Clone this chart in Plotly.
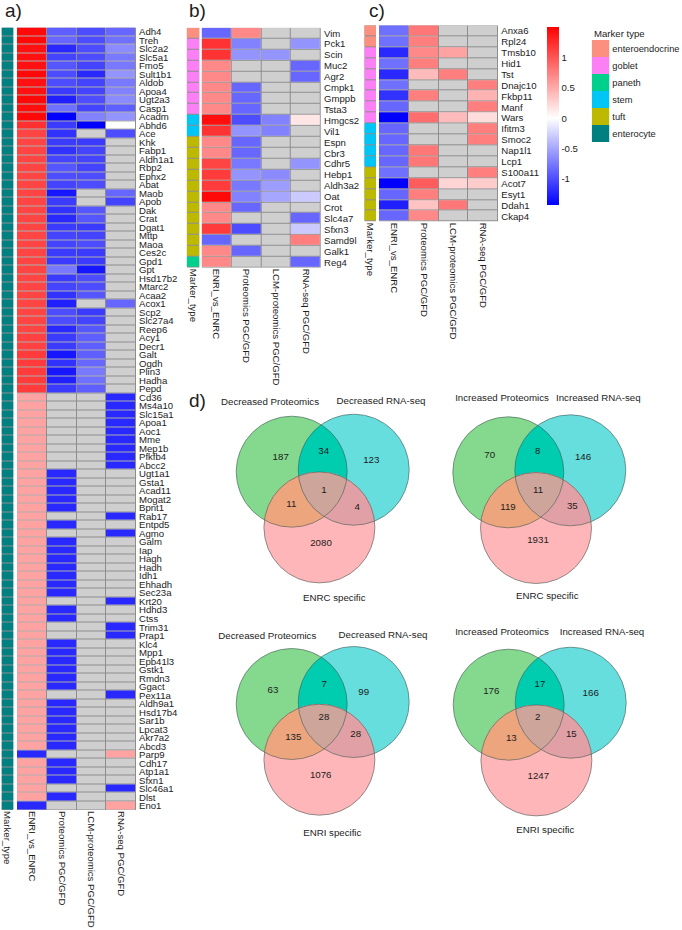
import numpy as np
import plotly.graph_objects as go

N = None
# ---------------- data ----------------
marker_types = ["enteroendocrine", "goblet", "paneth", "stem", "tuft", "enterocyte"]
columns = ["ENRI_vs_ENRC", "Proteomics PGC/GFD", "LCM-proteomics PGC/GFD", "RNA-seq PGC/GFD"]

a_genes = ["Adh4","Treh","Slc2a2","Slc5a1","Fmo5","Sult1b1","Aldob","Apoa4","Ugt2a3","Casp1","Acadm","Abhd6","Ace","Khk","Fabp1","Aldh1a1","Rbp2","Ephx2","Abat","Maob","Apob","Dak","Crat","Dgat1","Mttp","Maoa","Ces2c","Gpd1","Gpt","Hsd17b2","Mtarc2","Acaa2","Acox1","Scp2","Slc27a4","Reep6","Acy1","Decr1","Galt","Ogdh","Plin3","Hadha","Pepd",
           "Cd36","Ms4a10","Slc15a1","Apoa1","Aoc1","Mme","Mep1b","Pfkfb4","Abcc2","Ugt1a1","Gsta1","Acad11","Mogat2","Bpnt1","Rab17","Entpd5","Agmo","Galm","Iap","Hagh","Hadh","Idh1","Ehhadh","Sec23a","Krt20","Hdhd3","Ctss","Trim31","Prap1","Klc4","Mpp1","Epb41l3","Gstk1","Rmdn3","Ggact","Pex11a","Aldh9a1","Hsd17b4","Sar1b","Lpcat3","Akr7a2","Abcd3","Parp9","Cdh17","Atp1a1","Sfxn1","Slc46a1","Dlst","Eno1"]
a_enri = [1.45,1.45,1.4,1.4,1.4,1.45,1.4,1.4,1.45,1.42,1.45,1.22,
          1.1,1.1,1.1,1.1,1.1,1.1,1.1,1.1,1.1,1.1,1.1,1.1,1.1,1.1,1.1,1.1,1.1,1.1,1.1,1.1,1.1,1.1,1.1,1.1,1.12,1.12,1.15,1.15,1.15,1.15,1.15,
          .55,.55,.55,.55,.55,.55,.55,.55,.55,.55,.55,.55,.55,.55,.55,.55,.55,.55,.55,.55,.55,.55,.55,.55,.55,.55,.55,.55,.55,.55,.55,.55,.55,.55,.55,.55,.55,.55,.55,.55,.55,.55,-1.2,.55,.55,.55,.55,.55,-1.2]
a_prot = [-.9,-.85,-1.2,-1.05,-.95,-1.0,-1.0,-1.1,-1.25,-.8,-1.43,-1.1,-1.15,-1.1,-1.15,-1.05,-.95,-1.0,-1.05,-1.3,-1.1,-1.15,-1.2,-1.1,-1.05,-1.05,-1.1,-1.1,-.75,-1.1,-1.05,-1.15,-1.25,-1.0,-1.0,-1.2,-1.1,-1.1,-1.3,-1.15,-1.3,-1.25,-1.1,
          N,N,N,N,N,N,N,N,N,-1.2,-1.2,-1.2,-1.2,-1.2,N,-1.2,N,-1.2,-1.2,-1.2,-1.2,-1.2,-1.2,-1.2,N,-1.2,-1.2,N,N,-1.2,-1.2,-1.2,-1.2,-1.2,-1.2,N,-1.2,-1.2,-1.2,-1.2,-1.2,-1.2,N,-1.2,-1.2,-1.2,N,-1.2,N]
a_lcm = [-1.0,-1.0,-1.0,-1.0,-1.05,-1.2,-1.05,-1.05,-1.0,-1.05,-.7,-1.43,N,-1.1,-1.05,-1.05,-1.05,-1.0,-1.0,N,N,-.95,-.95,-1.1,-1.05,-1.0,-1.1,-1.1,-1.3,-1.0,-1.0,-.95,N,-1.1,-1.05,-.95,-.9,-.9,-.9,-.85,-.75,-.8,-.9,
         N,N,N,N,N,N,N,N,N,N,N,N,N,N,N,N,N,N,N,N,N,N,N,N,N,N,N,N,N,N,N,N,N,N,N,N,N,N,N,N,N,N,N,N,N,N,N,N,N]
a_rna = [-.85,-.8,-.65,-.75,-.75,-.6,-.75,-.7,-.65,-.9,-.6,0,-1.0,N,N,N,N,N,N,-.85,-1.05,N,N,N,N,N,N,N,N,N,N,N,-.85,N,N,N,N,N,N,N,N,N,N,
         -1.2,-1.2,-1.2,-1.2,-1.2,-1.2,-1.2,-1.2,-1.2,N,N,N,N,N,-1.2,N,-1.2,N,N,N,N,N,N,N,-1.2,N,N,-1.2,-1.2,N,N,N,N,N,N,-1.2,N,N,N,N,N,N,.55,N,N,N,-1.2,N,.55]
a_types = ["enterocyte"] * len(a_genes)

b_genes = ["Vim","Pck1","Scin","Muc2","Agr2","Cmpk1","Gmppb","Tsta3","Hmgcs2","Vil1","Espn","Cbr3","Cdhr5","Hebp1","Aldh3a2","Oat","Crot","Slc4a7","Sfxn3","Samd9l","Galk1","Reg4"]
b_types = ["enteroendocrine","goblet","goblet","goblet","goblet","goblet","goblet","goblet","stem","stem","tuft","tuft","tuft","tuft","tuft","tuft","tuft","tuft","tuft","tuft","tuft","paneth"]
b_enri = [-.85,1.2,1.2,.7,.7,.7,.7,.7,1.42,1.2,.7,.7,1.1,1.15,1.15,1.45,.7,.7,1.15,-.85,.7,.7]
b_prot = [.7,-.7,-.6,N,N,-.85,-.85,-.85,-1.0,-.6,-.85,-.85,-.75,-.6,-.75,-.7,-.85,N,-1.0,N,-.85,N]
b_lcm = [N,N,-.6,N,N,N,N,N,-.7,-.7,N,N,N,-.65,-.55,-.5,N,N,N,N,N,N]
b_rna = [N,-.6,N,-.85,-.85,N,N,N,.15,N,N,N,-.6,N,N,-.3,N,-.85,-.3,.75,N,-.85]

c_genes = ["Anxa6","Rpl24","Tmsb10","Hid1","Tst","Dnajc10","Fkbp11","Manf","Wars","Ifitm3","Smoc2","Nap1l1","Lcp1","S100a11","Acot7","Esyt1","Ddah1","Ckap4"]
c_types = ["enteroendocrine","enteroendocrine","goblet","goblet","goblet","goblet","goblet","goblet","goblet","stem","stem","stem","stem","tuft","tuft","tuft","tuft","tuft"]
c_enri = [-.8,-.8,-1.2,-.8,-1.2,-.8,-1.15,-.85,-1.43,-.85,-.85,-.85,-.85,-.8,-1.43,-.85,-1.25,-.85]
c_prot = [.8,.75,.7,.75,.4,N,.75,N,.85,N,N,.8,.8,N,.95,.75,.35,.7]
c_lcm = [N,N,.55,N,.75,N,N,N,.4,N,N,N,N,N,.25,N,.8,N]
c_rna = [N,N,N,N,N,.75,.45,.75,.2,.75,.75,N,N,.75,.3,N,N,N]

venn_titles = [("Decreased Proteomics","Decreased RNA-seq","ENRC specific"),
               ("Increased Proteomics","Increased RNA-seq","ENRC specific"),
               ("Decreased Proteomics","Decreased RNA-seq","ENRI specific"),
               ("Increased Proteomics","Increased RNA-seq","ENRI specific")]
venn_counts = [[187,34,123,1,11,4,2080],
               [70,8,146,11,119,35,1931],
               [63,7,99,28,135,28,1076],
               [176,17,166,2,13,15,1247]]

# ---------------- styling / layout constants ----------------
W, H = 682, 930
FONT = "Liberation Sans"
TXT = "#1c1c1c"
GRID = "#8e8e8e"
NA = "#cfcfcf"
type_colors = ["#fb8f80", "#fb80f5", "#00d08c", "#00c6f5", "#bdb900", "#008080"]
ZMIN, ZMAX = -1.43, 1.5
mid = -ZMIN / (ZMAX - ZMIN)
colorscale = [[0, "#0000ff"], [mid, "#ffffff"], [1, "#ff0000"]]
type_scale = [[i / 5, c] for i, c in enumerate(type_colors)]

fig = go.Figure()
layout = dict(width=W, height=H, margin=dict(l=0, r=0, t=0, b=0, pad=0), autosize=False,
              paper_bgcolor="white", plot_bgcolor="rgba(0,0,0,0)", showlegend=False,
              font=dict(family=FONT, size=10, color=TXT))
axis_no = [0]


def new_axes(x0, x1, y0, y1, xcats, ycats, **ya):
    """Adds a pair of axes placed by pixel box; returns their trace refs."""
    axis_no[0] += 1
    n = axis_no[0]
    s = "" if n == 1 else str(n)
    layout["xaxis" + s] = dict(domain=[x0 / W, x1 / W], anchor="y" + s, type="category", showgrid=False,
                               zeroline=False, ticks="", showline=False, tickangle=90, fixedrange=True,
                               tickmode="array", tickvals=xcats, ticktext=xcats,
                               tickfont=dict(size=9.6, family=FONT, color=TXT), automargin=False)
    yy = dict(domain=[1 - y1 / H, 1 - y0 / H], anchor="x" + s, type="category", showgrid=False, zeroline=False,
              ticks="", showline=False, autorange="reversed", side="right", showticklabels=False,
              tickmode="array", tickvals=ycats, ticktext=ycats, ticklabelstandoff=2,
              fixedrange=True, tickfont=dict(size=9.6, family=FONT, color=TXT), automargin=False)
    yy.update(ya)
    layout["yaxis" + s] = yy
    return "x" + s, "y" + s


def strip(box, genes, types):
    xs = ["Marker_type"]
    xa, ya = new_axes(*box, xs, genes)
    z = [[marker_types.index(t)] for t in types]
    fig.add_heatmap(x=xs, y=genes, z=[[0] for _ in genes], colorscale=[[0, GRID], [1, GRID]], showscale=False, xaxis=xa, yaxis=ya)
    fig.add_heatmap(x=xs, y=genes, z=z, zmin=0, zmax=5, colorscale=type_scale, showscale=False, ygap=1, xaxis=xa, yaxis=ya)


def heat(box, genes, cols):
    xa, ya = new_axes(*box, columns, genes, showticklabels=True)
    z = [list(r) for r in zip(*cols)]
    z = [[np.nan if v is None else v for v in r] for r in z]
    zero = [[0, 0, 0, 0] for _ in genes]
    fig.add_heatmap(x=columns, y=genes, z=zero, colorscale=[[0, GRID], [1, GRID]], showscale=False, xaxis=xa, yaxis=ya)
    fig.add_heatmap(x=columns, y=genes, z=zero, colorscale=[[0, NA], [1, NA]], showscale=False, xgap=1, ygap=1, xaxis=xa, yaxis=ya)
    fig.add_heatmap(x=columns, y=genes, z=z, coloraxis="coloraxis", xgap=1, ygap=1, xaxis=xa, yaxis=ya)


assert all(len(c) == len(a_genes) for c in (a_enri, a_prot, a_lcm, a_rna))
strip((1.5, 13.5, 27.5, 810), a_genes, a_types)
heat((17, 136, 27.5, 810), a_genes, (a_enri, a_prot, a_lcm, a_rna))
strip((186.7, 199.3, 27.7, 267.7), b_genes, b_types)
heat((201.7, 321, 27.7, 267.7), b_genes, (b_enri, b_prot, b_lcm, b_rna))
strip((364.3, 376, 25.3, 221.7), c_genes, c_types)
heat((379, 498.3, 25.3, 221.7), c_genes, (c_enri, c_prot, c_lcm, c_rna))

# marker-type key, drawn as a one-column heatmap
xa, ya = new_axes(591.7, 609.3, 40, 142, ["key"], marker_types, showticklabels=True)
layout["xaxis" + xa[1:]]["showticklabels"] = False
layout["yaxis" + ya[1:]]["ticklabelstandoff"] = 2
layout["yaxis" + ya[1:]]["tickfont"] = dict(size=9.3, family=FONT, color=TXT)
fig.add_heatmap(x=["key"], y=marker_types, z=[[i] for i in range(6)], zmin=0, zmax=5, colorscale=type_scale,
                showscale=False, xaxis=xa, yaxis=ya)

layout["coloraxis"] = dict(cmin=ZMIN, cmax=ZMAX, colorscale=colorscale,
                           colorbar=dict(x=547 / W, xanchor="left", xpad=0, y=1 - 27 / H, yanchor="top", ypad=0,
                                         lenmode="pixels", len=178, thicknessmode="pixels", thickness=12,
                                         outlinewidth=0, ticks="", tickmode="array",
                                         tickvals=[1, .5, 0, -.5, -1], ticktext=["1", "0.5", "0", "-0.5", "-1"],
                                         tickfont=dict(size=9.6, family=FONT, color=TXT)))

# overlay in pixel units for the Venn diagrams and panel letters
axis_no[0] += 1
ov = str(axis_no[0])
layout["xaxis" + ov] = dict(domain=[0, 1], range=[0, W], anchor="y" + ov, visible=False, fixedrange=True)
layout["yaxis" + ov] = dict(domain=[0, 1], range=[H, 0], anchor="x" + ov, visible=False, fixedrange=True)

R = 55.5
venn_origin = [(291.7, 471.7), (508.3, 472.3), (291.7, 704), (508.7, 704.7)]
TEAL_OFF, PINK_OFF = (62, -2), (27.7, 55.7)
# label anchors, in pixels
venn_count_xy = [
    [(280.7, 458), (323.7, 452), (371.3, 460.3), (324, 490.3), (291.3, 505), (357.3, 507.3), (321, 543.3)],
    [(489.7, 455.3), (537.7, 452), (583, 457.3), (538, 490.3), (508, 507.3), (572.3, 507), (538, 540.7)],
    [(273, 690.7), (324.3, 684.7), (363.7, 692.7), (324, 717.3), (293.3, 737.7), (355.7, 734.7), (320.7, 775.7)],
    [(491.3, 691.3), (540, 685), (590.7, 693.3), (537.7, 717.7), (511.3, 738.3), (571.3, 735), (538.3, 776.7)]]
venn_title_xy = [
    [(270, 402.7), (381, 401.7), (334.3, 599)],
    [(502, 398.3), (598.3, 398.3), (547.3, 596.7)],
    [(267.3, 636.7), (383, 635.7), (332.3, 833.3)],
    [(502, 632.3), (602, 632.3), (545.3, 830.7)]]


def disk_polygon(disks, n=240):
    """Outline of the intersection of several disks (always convex)."""
    gx, gy = np.meshgrid(np.linspace(0, W, 683), np.linspace(0, H, 931))
    inside = np.ones_like(gx, dtype=bool)
    for cx, cy in disks:
        inside &= (gx - cx) ** 2 + (gy - cy) ** 2 <= R ** 2
    ox, oy = gx[inside].mean(), gy[inside].mean()
    pts = []
    for t in np.linspace(0, 2 * np.pi, n, endpoint=False):
        dx, dy = np.cos(t), np.sin(t)
        best = np.inf
        for cx, cy in disks:
            b = dx * (ox - cx) + dy * (oy - cy)
            c = (ox - cx) ** 2 + (oy - cy) ** 2 - R ** 2
            best = min(best, -b + np.sqrt(b * b - c))
        pts.append((ox + best * dx, oy + best * dy))
    return "M" + "L".join(f"{x:.2f},{y:.2f}" for x, y in pts) + "Z"


shapes = []
for gx0, gy0 in venn_origin:
    g = (gx0, gy0)
    t = (gx0 + TEAL_OFF[0], gy0 + TEAL_OFF[1])
    p = (gx0 + PINK_OFF[0], gy0 + PINK_OFF[1])
    fills = [([g], "rgb(133,217,142)"), ([t], "rgb(102,222,222)"), ([g, t], "rgb(0,205,175)"),
             ([p], "rgb(255,182,185)"), ([p, g], "rgb(236,165,125)"), ([p, t], "rgb(224,160,165)"),
             ([p, g, t], "rgb(205,165,155)")]
    for disks, col in fills:
        shapes.append(dict(type="path", path=disk_polygon(disks), xref="x" + ov, yref="y" + ov,
                           fillcolor=col, line=dict(width=0), layer="below"))
    for cx, cy in (g, t, p):
        shapes.append(dict(type="circle", x0=cx - R, x1=cx + R, y0=cy - R, y1=cy + R, xref="x" + ov, yref="y" + ov,
                           line=dict(color="rgba(70,90,85,0.75)", width=0.8), layer="below"))
layout["shapes"] = shapes

cx_, cy_, ct_ = [], [], []
for pos, vals in zip(venn_count_xy, venn_counts):
    for (x, y), v in zip(pos, vals):
        cx_.append(x); cy_.append(y); ct_.append(str(v))
for pos, vals in zip(venn_title_xy, venn_titles):
    for (x, y), v in zip(pos, vals):
        cx_.append(x); cy_.append(y); ct_.append(v)
fig.add_scatter(x=cx_, y=cy_, text=ct_, mode="text", textposition="middle center",
                textfont=dict(size=9.7, family=FONT, color=TXT), xaxis="x" + ov, yaxis="y" + ov, hoverinfo="skip")

letters = [("a)", 3, 10), ("b)", 187, 10), ("c)", 366.5, 10), ("d)", 187, 400)]
notes = [dict(text=t, x=x, y=y, xref="x" + ov, yref="y" + ov, xanchor="left", yanchor="middle", showarrow=False,
              font=dict(size=19, family=FONT, color=TXT)) for t, x, y in letters]
notes.append(dict(text="Marker type", x=592, y=33, xref="x" + ov, yref="y" + ov, xanchor="left", yanchor="middle",
                  showarrow=False, font=dict(size=9.6, family=FONT, color=TXT)))
layout["annotations"] = notes

fig.update_layout(**layout)
fig.write_html("out.html", config=dict(displayModeBar=False),
               post_script="document.body.style.margin='0';document.documentElement.style.overflow='hidden';")
